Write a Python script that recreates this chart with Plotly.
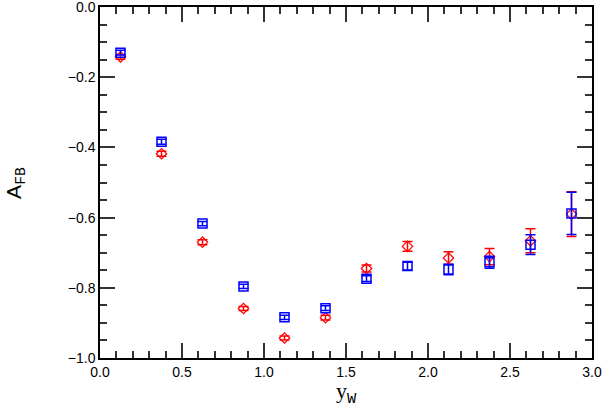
import plotly.graph_objects as go

# bin centres in y_W
yw = [0.125, 0.375, 0.625, 0.875, 1.125, 1.375, 1.625, 1.875, 2.125, 2.375, 2.625, 2.875]

# red diamonds
afb_red = [-0.142, -0.418, -0.670, -0.859, -0.943, -0.885, -0.745, -0.682, -0.715, -0.711, -0.666, -0.590]
err_red = [0.007, 0.007, 0.007, 0.006, 0.006, 0.007, 0.010, 0.014, 0.018, 0.023, 0.034, 0.064]

# blue squares
afb_blue = [-0.130, -0.384, -0.617, -0.796, -0.884, -0.858, -0.774, -0.738, -0.748, -0.727, -0.677, -0.588]
err_blue = [0.007, 0.007, 0.006, 0.006, 0.006, 0.007, 0.008, 0.011, 0.015, 0.017, 0.028, 0.060]

x_ticks = [0.0, 0.5, 1.0, 1.5, 2.0, 2.5, 3.0]
y_ticks = [0.0, -0.2, -0.4, -0.6, -0.8, -1.0]

fig = go.Figure()
fig.add_trace(
    go.Scatter(
        x=yw,
        y=afb_red,
        mode="markers",
        marker=dict(symbol="diamond-open", size=8, color="red", line=dict(width=1.2)),
        error_y=dict(type="data", array=err_red, color="red", thickness=1.5, width=5),
    )
)
fig.add_trace(
    go.Scatter(
        x=yw,
        y=afb_blue,
        mode="markers",
        marker=dict(symbol="square-open", size=9, color="blue", line=dict(width=1.5)),
        error_y=dict(type="data", array=err_blue, color="blue", thickness=1.5, width=5),
    )
)

axis_common = dict(
    showgrid=False,
    zeroline=False,
    showline=True,
    linecolor="black",
    linewidth=1.5,
    mirror="allticks",
    ticks="inside",
    ticklen=15,
    tickwidth=1.5,
    tickcolor="#333",
    automargin=False,
    tickmode="array",
    ticklabeloverflow="allow",
    tickfont=dict(family="Liberation Sans", size=14, color="black"),
)

fig.update_xaxes(
    range=[0, 3],
    tickvals=x_ticks,
    ticktext=["%.1f" % v for v in x_ticks],
    minor=dict(dtick=0.1, tick0=0, ticks="inside", ticklen=7, tickwidth=1.5, tickcolor="#333"),
    **axis_common,
)
fig.update_yaxes(
    range=[-1, 0],
    tickvals=y_ticks,
    ticktext=[("\u2212%.1f" % -v) if v < 0 else "%.1f" % v for v in y_ticks],
    minor=dict(dtick=0.05, tick0=0, ticks="inside", ticklen=7, tickwidth=1.5, tickcolor="#333"),
    **axis_common,
)

# axis titles; subscripts in a courier-like face
fig.add_annotation(
    xref="paper", yref="paper", x=-0.172, y=0.50, xanchor="center", yanchor="middle",
    text="A<sub><span style=\"font-family:'Liberation Mono',monospace\">FB</span></sub>",
    showarrow=False, textangle=-90,
    font=dict(family="Liberation Sans", size=21, color="black"),
)
fig.add_annotation(
    xref="paper", yref="paper", x=0.5, y=-0.1, xanchor="center", yanchor="middle",
    text="y<sub><span style=\"font-family:'Liberation Mono',monospace\">W</span></sub>",
    showarrow=False,
    font=dict(family="Liberation Serif", size=22, color="black"),
)

fig.update_layout(
    width=604,
    height=409,
    margin=dict(l=100, r=12, t=7, b=51),
    plot_bgcolor="white",
    paper_bgcolor="white",
    showlegend=False,
)

# drop the default page margin so the figure sits at the window's corner
fig.write_html(
    "out.html",
    config={"displayModeBar": False},
    post_script="document.body.style.margin='0';",
)
